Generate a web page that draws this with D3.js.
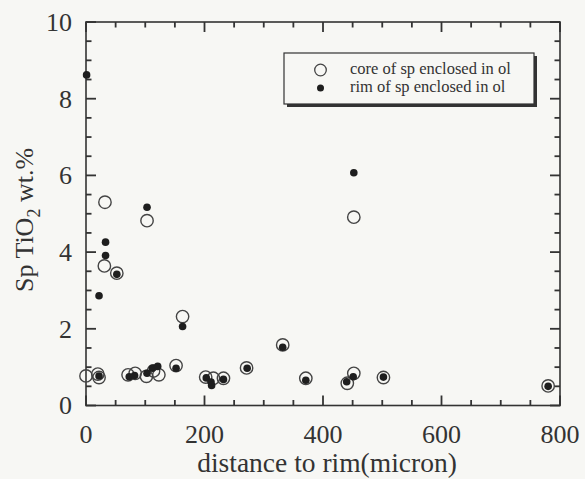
<!DOCTYPE html>
<html>
<head>
<meta charset="utf-8">
<script src="https://cdn.jsdelivr.net/npm/d3@7/dist/d3.min.js"></script>
<style>
  html, body { margin: 0; padding: 0; background: #f7f7f4; }
  svg { display: block; }
  text { font-family: "Liberation Serif", "Times New Roman", serif; fill: #333; }
</style>
</head>
<body>
<svg id="chart" width="585" height="479"></svg>
<script>
// TiO2 content of spinel vs. distance to olivine rim
const coreDistance = [0, 20, 22, 32, 31, 52, 71, 83, 102, 103, 114, 123, 152, 163, 202, 215, 232, 271, 332, 371, 441, 452, 452, 502, 780];
const coreTiO2     = [0.77, 0.82, 0.73, 5.30, 3.64, 3.45, 0.80, 0.84, 0.76, 4.82, 0.90, 0.80, 1.04, 2.32, 0.74, 0.71, 0.71, 0.98, 1.58, 0.71, 0.58, 0.84, 4.91, 0.73, 0.51];

const rimDistance = [1, 22, 22, 33, 33, 52, 73, 82, 103, 103, 112, 121, 152, 163, 203, 211, 212, 232, 272, 332, 371, 440, 451, 452, 502, 780];
const rimTiO2     = [8.62, 0.77, 2.86, 4.26, 3.91, 3.42, 0.75, 0.78, 0.84, 5.17, 0.97, 1.02, 0.97, 2.06, 0.72, 0.61, 0.52, 0.68, 0.97, 1.52, 0.66, 0.62, 0.75, 6.07, 0.74, 0.50];

const xMajorTicks = [0, 200, 400, 600, 800];
const xMinorTicks = d3.range(0, 801, 50);
const yMajorTicks = [0, 2, 4, 6, 8, 10];
const yMinorTicks = d3.range(0, 10.01, 0.5);

const legendLabels = ["core of sp enclosed in ol", "rim of sp enclosed in ol"];

const svg = d3.select("#chart");
const plotLeft = 86, plotRight = 560, plotTop = 22, plotBottom = 405.5;

const x = d3.scaleLinear().domain([0, 800]).range([plotLeft, plotRight]);
const y = d3.scaleLinear().domain([0, 10]).range([plotBottom, plotTop]);

const axisColor = "#333";
const majorLen = 10, minorLen = 5.5, tickW = 1.8;
const isXMajor = v => xMajorTicks.includes(v);
const isYMajor = v => yMajorTicks.includes(Math.round(v * 100) / 100);

// inward tick marks on all four sides, drawn as thin filled bars
const tickG = svg.append("g").attr("fill", axisColor);
tickG.selectAll("rect.xb").data(xMinorTicks).join("rect").attr("class", "xb")
  .attr("x", d => x(d) - tickW / 2).attr("width", tickW)
  .attr("y", d => plotBottom - (isXMajor(d) ? majorLen : minorLen))
  .attr("height", d => isXMajor(d) ? majorLen : minorLen);
tickG.selectAll("rect.xt").data(xMinorTicks).join("rect").attr("class", "xt")
  .attr("x", d => x(d) - tickW / 2).attr("width", tickW)
  .attr("y", plotTop)
  .attr("height", d => isXMajor(d) ? majorLen : minorLen);
tickG.selectAll("rect.yl").data(yMinorTicks).join("rect").attr("class", "yl")
  .attr("y", d => y(d) - tickW / 2).attr("height", tickW)
  .attr("x", plotLeft)
  .attr("width", d => isYMajor(d) ? majorLen : minorLen);
tickG.selectAll("rect.yr").data(yMinorTicks).join("rect").attr("class", "yr")
  .attr("y", d => y(d) - tickW / 2).attr("height", tickW)
  .attr("x", d => plotRight - (isYMajor(d) ? majorLen : minorLen))
  .attr("width", d => isYMajor(d) ? majorLen : minorLen);

// tick labels
svg.append("g").selectAll("text").data(xMajorTicks).join("text")
  .attr("x", d => x(d)).attr("y", 443)
  .attr("text-anchor", "middle").attr("font-size", 26)
  .text(d3.format("d"));
svg.append("g").selectAll("text").data(yMajorTicks).join("text")
  .attr("x", plotLeft - 14).attr("y", d => y(d)).attr("dy", "0.34em")
  .attr("text-anchor", "end").attr("font-size", 26)
  .text(d3.format("d"));

// frame
svg.append("rect")
  .attr("x", plotLeft).attr("y", plotTop)
  .attr("width", plotRight - plotLeft).attr("height", plotBottom - plotTop)
  .attr("fill", "none").attr("stroke", axisColor).attr("stroke-width", 1.6);

// axis titles
svg.append("text")
  .attr("x", (plotLeft + plotRight) / 2 + 4).attr("y", 472)
  .attr("text-anchor", "middle").attr("font-size", 27.5)
  .text("distance to rim(micron)");

const yTitle = svg.append("text")
  .attr("transform", `translate(33,220) rotate(-90)`)
  .attr("text-anchor", "middle").attr("font-size", 26);
yTitle.append("tspan").text("Sp TiO");
yTitle.append("tspan").attr("font-size", 18).attr("dy", 7).text("2");
yTitle.append("tspan").attr("dy", -7).text(" wt.%");

// data: open circles for cores, filled dots for rims
const core = coreDistance.map((d, i) => ({ x: d, y: coreTiO2[i] }));
const rim = rimDistance.map((d, i) => ({ x: d, y: rimTiO2[i] }));

svg.append("g").selectAll("circle").data(core).join("circle")
  .attr("cx", d => x(d.x)).attr("cy", d => y(d.y)).attr("r", 6.2)
  .attr("fill", "none").attr("stroke", "#444").attr("stroke-width", 1.4);

svg.append("g").selectAll("circle").data(rim).join("circle")
  .attr("cx", d => x(d.x)).attr("cy", d => y(d.y)).attr("r", 3.8)
  .attr("fill", "#1e1e1e");

// legend with drop shadow
const lg = svg.append("g");
lg.append("rect").attr("x", 287).attr("y", 56).attr("width", 250).attr("height", 51).attr("fill", "#333");
lg.append("rect").attr("x", 284).attr("y", 53).attr("width", 250).attr("height", 51)
  .attr("fill", "#f7f7f4").attr("stroke", "#333").attr("stroke-width", 1.2);
lg.append("circle").attr("cx", 320.5).attr("cy", 70).attr("r", 5.8)
  .attr("fill", "none").attr("stroke", "#444").attr("stroke-width", 1.3);
lg.append("circle").attr("cx", 320.5).attr("cy", 88).attr("r", 3.5).attr("fill", "#1e1e1e");
lg.selectAll("text.lbl").data(legendLabels).join("text").attr("class", "lbl")
  .attr("x", 350).attr("y", (d, i) => 74 + i * 18)
  .attr("font-size", 16.5).text(d => d);
</script>
</body>
</html>
